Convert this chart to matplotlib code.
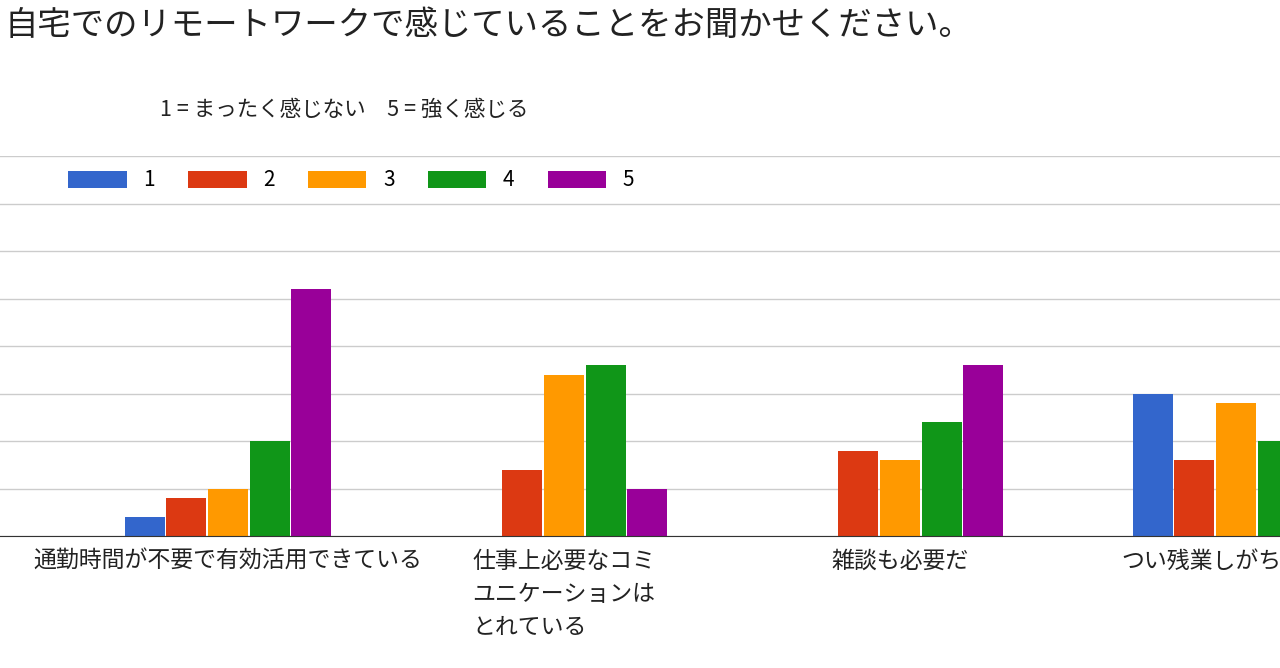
import matplotlib.pyplot as plt
import numpy as np

plt.rcParams["font.family"] = "Noto Sans CJK JP"

categories = ["通勤時間が不要で有効活用できている", "仕事上必要なコミ\nユニケーションは\nとれている",
              "雑談も必要だ", "つい残業しがちになる"]
series_names = ["1", "2", "3", "4", "5"]
values = [
    [2, 0, 0, 15],
    [4, 7, 9, 8],
    [5, 17, 8, 14],
    [10, 18, 12, 10],
    [26, 5, 18, 12],
]
colors = ["#3366cc", "#dc3912", "#ff9900", "#109618", "#990099"]

fig = plt.figure(figsize=(12.8, 6.68), dpi=100)
ax = fig.add_axes([0, 1 - 536 / 668, 1, (536 - 156) / 668])

x = np.arange(len(categories))
step = 0.124
width = 0.119
for i, (name, vals) in enumerate(zip(series_names, values)):
    ax.bar(x + (i - 2) * step, vals, width, color=colors[i], label=name, zorder=2)

ax.set_xlim(-228 / 336, (1280 - 228) / 336)
ax.set_ylim(0, 40)
ax.set_yticks(np.arange(0, 41, 5))
ax.yaxis.grid(True, color="#cccccc", linewidth=1, zorder=0)
ax.tick_params(axis="y", left=False, labelleft=False)
ax.set_xticks(x)
ax.set_xticklabels(categories, fontsize=16.5, color="#222222", linespacing=1.55)
for lbl in ax.get_xticklabels():
    lbl.set_multialignment("left")
ax.tick_params(axis="x", length=0, pad=10)
for s in ["top", "right", "left"]:
    ax.spines[s].set_visible(False)
ax.spines["bottom"].set_color("#333333")

leg = ax.legend(ncol=5, loc="lower left", bbox_to_anchor=(60 / 1280, 0.885),
                frameon=True, fontsize=15, handlelength=2.8, handleheight=0.9,
                columnspacing=1.6, borderaxespad=0, edgecolor="white", fancybox=False)
leg.get_frame().set_facecolor("white")
leg.set_zorder(5)

fig.text(5 / 1280, 1 - 25 / 668, "自宅でのリモートワークで感じていることをお聞かせください。",
         fontsize=24, va="center", color="#222222")
fig.text(160 / 1280, 1 - 110 / 668, "1 = まったく感じない　5 = 強く感じる",
         fontsize=15.5, va="center", color="#222222")

fig.savefig("out.png", dpi=100, facecolor="white")
